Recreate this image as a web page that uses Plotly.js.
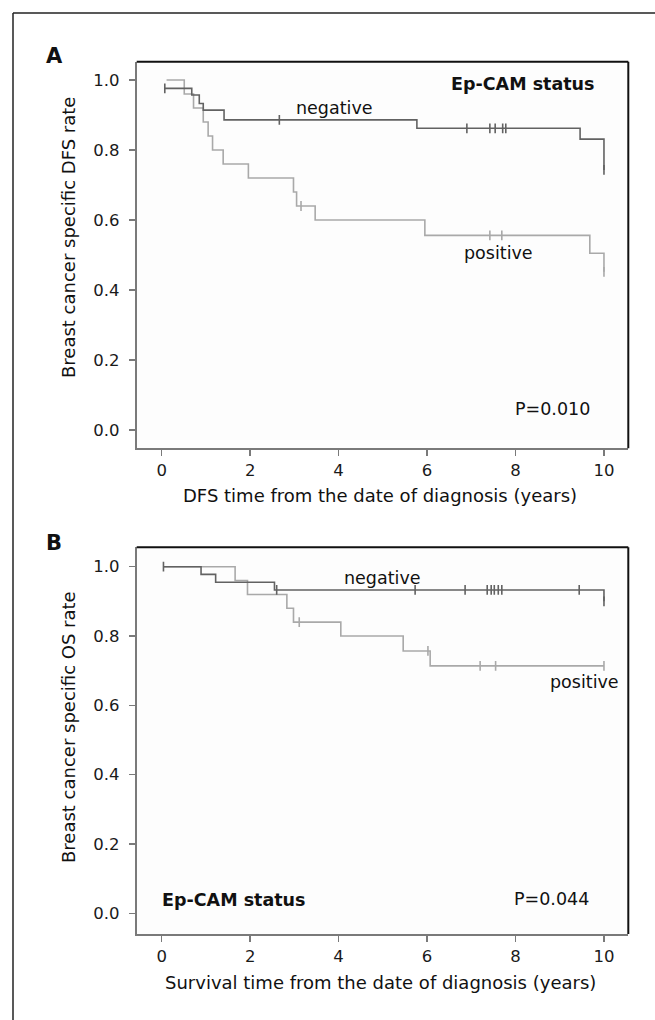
<!DOCTYPE html>
<html><head><meta charset="utf-8">
<script src="https://cdn.plot.ly/plotly-3.0.1.min.js"></script>
<style>html,body{margin:0;padding:0;background:#fff}#chart{width:655px;height:1020px}</style>
</head><body><div id="chart"></div>
<script>
// ---------- data ----------
const xTickVals = [0, 2, 4, 6, 8, 10];
const yTickVals = [0, 0.2, 0.4, 0.6, 0.8, 1.0];

// Panel A: DFS
const dfsNegTime = [0.07, 0.68, 0.85, 0.94, 1.41, 5.77, 9.46, 10.0];
const dfsNegRate = [0.976, 0.957, 0.933, 0.914, 0.886, 0.862, 0.831, 0.743];
const dfsNegCensTime = [0.07, 2.66, 6.90, 7.42, 7.54, 7.71, 7.78, 10.0];
const dfsNegCensRate = [0.976, 0.886, 0.862, 0.862, 0.862, 0.862, 0.862, 0.743];

const dfsPosTime = [0.11, 0.51, 0.72, 0.94, 1.05, 1.15, 1.39, 1.96, 2.98, 3.05, 3.47, 5.95, 9.68, 10.0];
const dfsPosRate = [1.0, 0.96, 0.92, 0.88, 0.84, 0.80, 0.76, 0.72, 0.68, 0.64, 0.60, 0.556, 0.505, 0.452];
const dfsPosCensTime = [3.15, 7.42, 7.69, 10.0];
const dfsPosCensRate = [0.64, 0.556, 0.556, 0.452];

// Panel B: OS
const osNegTime = [0.04, 0.89, 1.22, 2.55, 10.0];
const osNegRate = [1.0, 0.978, 0.955, 0.933, 0.90];
const osNegCensTime = [0.04, 2.6, 5.73, 6.86, 7.36, 7.45, 7.52, 7.61, 7.69, 9.44, 10.0];
const osNegCensRate = [1.0, 0.933, 0.933, 0.933, 0.933, 0.933, 0.933, 0.933, 0.933, 0.933, 0.90];

const osPosTime = [0.04, 1.66, 1.94, 2.83, 2.98, 4.05, 5.46, 6.07, 10.0];
const osPosRate = [1.0, 0.96, 0.92, 0.88, 0.84, 0.80, 0.757, 0.714, 0.714];
const osPosCensTime = [3.11, 6.02, 7.2, 7.55, 10.0];
const osPosCensRate = [0.84, 0.757, 0.714, 0.714, 0.714];

// ---------- style ----------
const W = 655, H = 1020;
const FONT = 'DejaVu Sans, Verdana, sans-serif';
const NEG = '#626262', POS = '#a9a9a9';
const AXC = '#7a7a7a';
const px = v => v / W, py = v => 1 - v / H;

const X0 = 136.7, X1 = 628.3;
const A_T = 61.7, A_B = 448.3;
const B_T = 547.3, B_B = 934;

function curve(t, s, color, xa, ya) {
  return {x: t, y: s, type: 'scatter', mode: 'lines', line: {shape: 'hv', color: color, width: 1.6},
          xaxis: xa, yaxis: ya, hoverinfo: 'skip', showlegend: false};
}
function cens(t, s, color, xa, ya) {
  return {x: t, y: s, type: 'scatter', mode: 'markers',
          marker: {symbol: 'line-ns-open', size: 7, color: color, line: {color: color, width: 1.6}},
          xaxis: xa, yaxis: ya, hoverinfo: 'skip', showlegend: false};
}

const traces = [
  curve(dfsPosTime, dfsPosRate, POS, 'x', 'y'),
  cens(dfsPosCensTime, dfsPosCensRate, POS, 'x', 'y'),
  curve(dfsNegTime, dfsNegRate, NEG, 'x', 'y'),
  cens(dfsNegCensTime, dfsNegCensRate, NEG, 'x', 'y'),
  curve(osPosTime, osPosRate, POS, 'x2', 'y2'),
  cens(osPosCensTime, osPosCensRate, POS, 'x2', 'y2'),
  curve(osNegTime, osNegRate, NEG, 'x2', 'y2'),
  cens(osNegCensTime, osNegCensRate, NEG, 'x2', 'y2'),
];

function xax(anchor, domain) {
  return {domain: domain, anchor: anchor, range: [-0.565, 10.55], tickvals: xTickVals,
          showgrid: false, zeroline: false, showline: true, linecolor: AXC, linewidth: 2,
          ticks: 'outside', ticklen: 6, tickwidth: 1.5, tickcolor: AXC,
          tickfont: {family: FONT, size: 16.5, color: '#1a1a1a'}, fixedrange: true};
}
function yax(anchor, domain, range) {
  return {domain: domain, anchor: anchor, range: range, tickvals: yTickVals, tickformat: '.1f',
          showgrid: false, zeroline: false, showline: true, linecolor: AXC, linewidth: 2,
          ticks: 'outside', ticklen: 6, tickwidth: 1.5, tickcolor: AXC, ticklabelstandoff: 6,
          tickfont: {family: FONT, size: 16.5, color: '#1a1a1a'}, fixedrange: true};
}

function ann(text, x, y, size, bold, extra) {
  return Object.assign({text: bold ? '<b>' + text + '</b>' : text, xref: 'paper', yref: 'paper',
          x: px(x), y: py(y), xanchor: 'center', yanchor: 'middle', showarrow: false,
          font: {family: FONT, size: size, color: '#111'}}, extra || {});
}

const annotations = [
  ann('A', 54, 56, 21, true),
  ann('B', 54, 543, 21, true),
  ann('Ep-CAM status', 522, 84, 17.5, true),
  ann('negative', 334, 108, 17.5, false),
  ann('positive', 498, 253, 17.5, false),
  ann('P=0.010', 552, 409, 17.5, false),
  ann('DFS time from the date of diagnosis (years)', 380, 495, 18, false),
  ann('Breast cancer specific DFS rate', 68, 238, 18, false, {textangle: -90}),
  ann('negative', 382, 578, 17.5, false),
  ann('positive', 584, 682, 17.5, false),
  ann('Ep-CAM status', 234, 900, 17.5, true),
  ann('P=0.044', 551, 899, 17.5, false),
  ann('Survival time from the date of diagnosis (years)', 380, 982, 18, false),
  ann('Breast cancer specific OS rate', 68, 727, 18, false, {textangle: -90}),
];

const blk = {color: '#111', width: 2};
const shapes = [
  // outer frame (left and top)
  {type: 'line', xref: 'paper', yref: 'paper', x0: px(13), x1: px(13), y0: py(13), y1: 0, line: {color: '#222', width: 1.5}},
  {type: 'line', xref: 'paper', yref: 'paper', x0: px(13), x1: 1, y0: py(13), y1: py(13), line: {color: '#222', width: 1.5}},
  // panel A top/right
  {type: 'line', xref: 'paper', yref: 'paper', x0: px(X0), x1: px(X1), y0: py(A_T), y1: py(A_T), line: blk},
  {type: 'line', xref: 'paper', yref: 'paper', x0: px(X1), x1: px(X1), y0: py(A_T), y1: py(A_B), line: blk},
  // panel B top/right
  {type: 'line', xref: 'paper', yref: 'paper', x0: px(X0), x1: px(X1), y0: py(B_T), y1: py(B_T), line: blk},
  {type: 'line', xref: 'paper', yref: 'paper', x0: px(X1), x1: px(X1), y0: py(B_T), y1: py(B_B), line: blk},
];

const layout = {
  width: W, height: H, margin: {l: 0, r: 0, t: 0, b: 0},
  paper_bgcolor: '#ffffff', plot_bgcolor: '#fdfdfd', showlegend: false,
  xaxis: xax('y', [px(X0), px(X1)]),
  yaxis: yax('x', [py(A_B), py(A_T)], [-0.0523, 1.0523]),
  xaxis2: xax('y2', [px(X0), px(X1)]),
  yaxis2: yax('x2', [py(B_B), py(B_T)], [-0.0597, 1.056]),
  annotations: annotations, shapes: shapes,
};

Plotly.newPlot('chart', traces, layout, {displayModeBar: false, staticPlot: true});
</script></body></html>
